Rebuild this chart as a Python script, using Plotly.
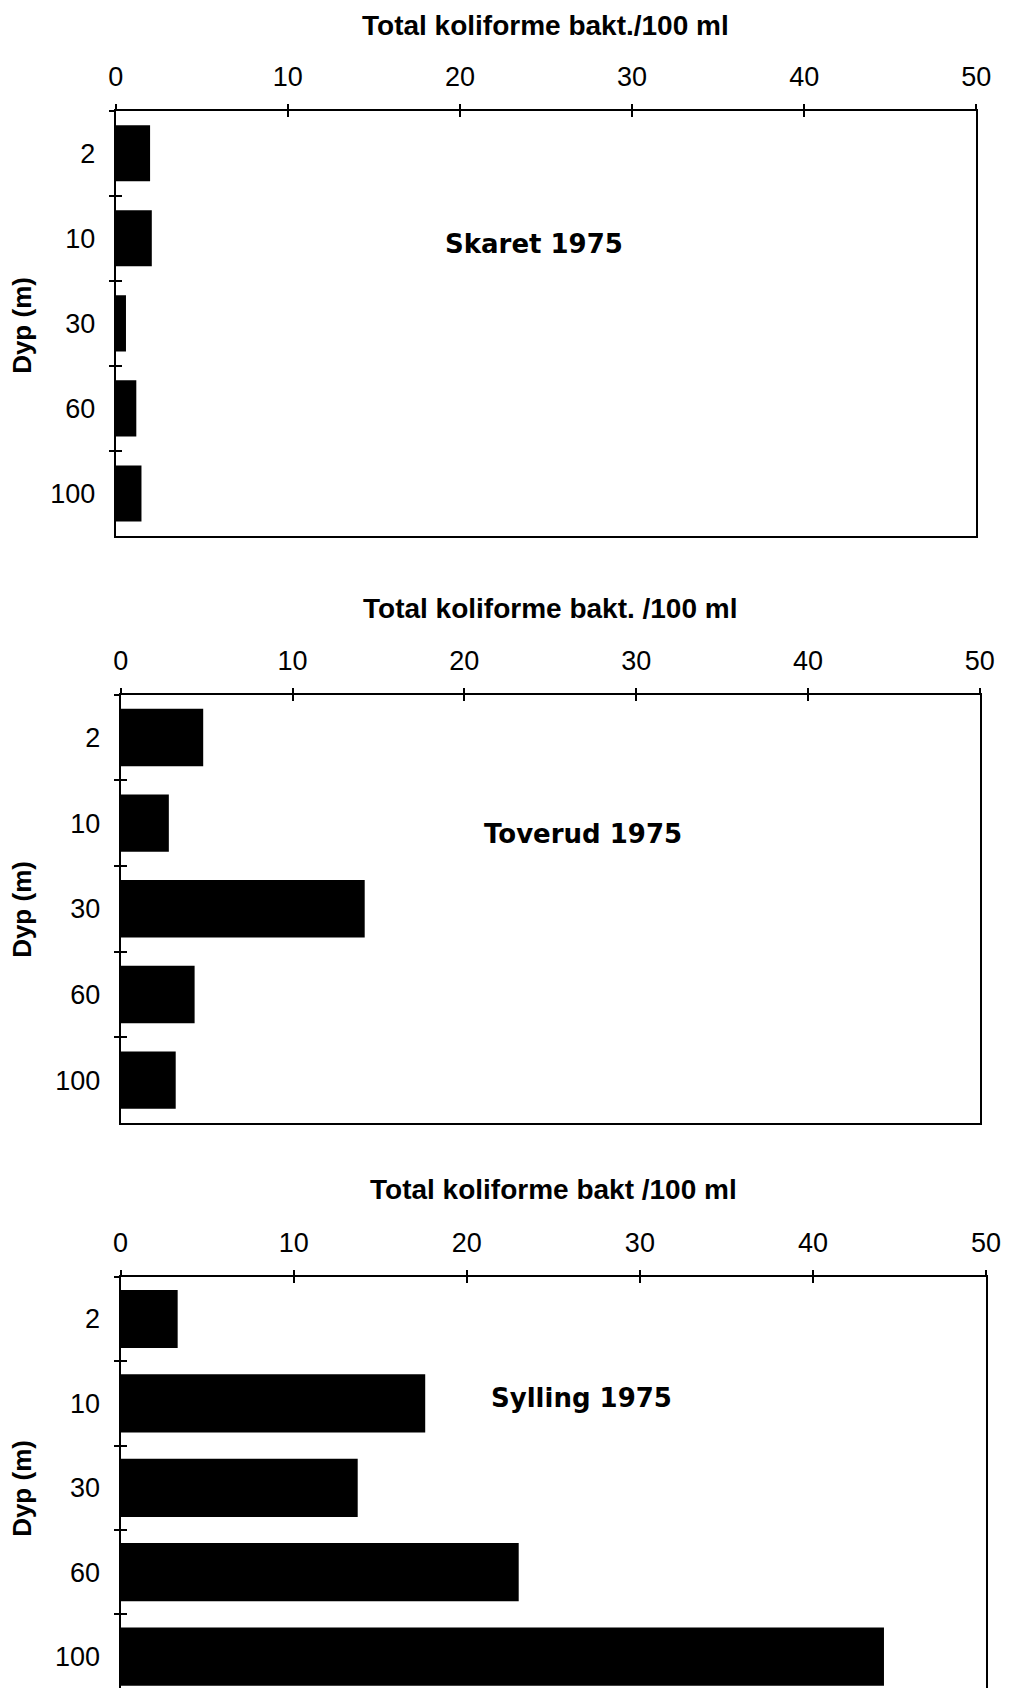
import plotly.graph_objects as go

# The page body adds a margin around the figure; the figure is sized to fit
# inside the 1016x1698 window (no overflow) and target pixel positions are shifted.
OFF_X, OFF_Y = 12, 8
W, H = 998, 1680

depths = ["2", "10", "30", "60", "100"]
skaret = [2.0, 2.1, 0.6, 1.2, 1.5]
toverud = [4.8, 2.8, 14.2, 4.3, 3.2]
sylling = [3.3, 17.6, 13.7, 23.0, 44.1]
x_ticks = [0, 10, 20, 30, 40, 50]

panel_titles = ["Total koliforme bakt./100 ml", "Total koliforme bakt. /100 ml", "Total koliforme bakt /100 ml"]
panel_names = ["Skaret 1975", "Toverud 1975", "Sylling 1975"]
y_title = "Dyp (m)"


def px(x):
    return (x - OFF_X) / W


def py(y):
    return 1 - (y - OFF_Y) / H


BOTTOM = OFF_Y + H  # lowest visible window row for the figure

# geometry in window pixels (left, right, top, bottom)
panels = [
    dict(l=114, r=995, t=110.7, b=536, yr=[4.5, -0.5], bw=0.66, mirror=True,
         tt=26, name_xy=(542, 244), ytc=325),
    dict(l=119.2, r=998.5, t=694.6, b=1123, yr=[4.5, -0.5], bw=0.67, mirror=True,
         tt=608, name_xy=(592, 834), ytc=909),
    dict(l=119, r=1005, t=1276.8, b=BOTTOM,
         yr=[-0.5 + (BOTTOM - 1276.8) / 84.4, -0.5], bw=0.69, mirror=False,
         tt=1189, name_xy=(591, 1398), ytc=1488),
]
series = [skaret, toverud, sylling]

TICKFONT = dict(family="Liberation Sans, Arial", size=27, color="black")

fig = go.Figure()
annotations = []
layout = {}

for i, (p, vals) in enumerate(zip(panels, series)):
    n = i + 1
    sx = "" if n == 1 else str(n)
    ox = str(n + 3)
    xd = [px(p["l"]), min(1.0, px(p["r"]))]
    yd = [max(0.0, py(p["b"])), py(p["t"])]

    fig.add_trace(go.Bar(
        x=vals, y=depths, orientation="h", width=p["bw"],
        marker=dict(color="black", line=dict(width=0)),
        xaxis="x" + sx, yaxis="y" + sx, showlegend=False, hoverinfo="x+y",
    ))
    # invisible trace carrying the overlay axes (inner half of crossing ticks)
    fig.add_trace(go.Scatter(
        x=[0], y=[0], mode="markers", marker=dict(opacity=0),
        xaxis="x" + ox, yaxis="y" + ox, showlegend=False, hoverinfo="skip",
    ))

    layout["xaxis" + sx] = dict(
        domain=xd, range=[0, 50], side="top", anchor="y" + sx,
        tickvals=x_ticks, ticks="outside", ticklen=5, tickwidth=1.6, tickcolor="black",
        showline=True, linecolor="black", linewidth=2, mirror=p["mirror"],
        showgrid=False, zeroline=False, tickfont=TICKFONT, ticklabelstandoff=7,
        ticklabeloverflow="allow", fixedrange=True,
    )
    layout["yaxis" + sx] = dict(
        domain=yd, type="category", categoryorder="array", categoryarray=depths,
        range=p["yr"], anchor="x" + sx, tickson="boundaries",
        ticks="outside", ticklen=5, tickwidth=1.6, tickcolor="black",
        showline=True, linecolor="black", linewidth=2, mirror=True,
        showgrid=False, zeroline=False, tickfont=TICKFONT, ticklabelstandoff=13,
        fixedrange=True,
    )
    layout["xaxis" + ox] = dict(
        overlaying="x" + sx, range=[0, 50], side="top", anchor="y" + sx,
        tickvals=x_ticks, ticks="inside", ticklen=6, tickwidth=1.6, tickcolor="black",
        showticklabels=False, showline=False, showgrid=False, zeroline=False,
        fixedrange=True,
    )
    layout["yaxis" + ox] = dict(
        overlaying="y" + sx, range=p["yr"], side="left", anchor="x" + sx,
        tickvals=[-0.5, 0.5, 1.5, 2.5, 3.5, 4.5], ticks="inside", ticklen=6,
        tickwidth=1.6, tickcolor="black",
        showticklabels=False, showline=False, showgrid=False, zeroline=False,
        fixedrange=True,
    )

    cx = (p["l"] + p["r"]) / 2
    annotations.append(dict(
        text=panel_titles[i], x=px(cx), y=py(p["tt"]), xref="paper", yref="paper",
        xanchor="center", yanchor="middle", showarrow=False,
        font=dict(family="Liberation Sans, Arial", size=28, color="black", weight="bold"),
    ))
    annotations.append(dict(
        text=panel_names[i], x=px(p["name_xy"][0]), y=py(p["name_xy"][1]),
        xref="paper", yref="paper", xanchor="center", yanchor="middle", showarrow=False,
        font=dict(family="DejaVu Sans, Liberation Sans", size=26, color="black", weight="bold"),
    ))
    annotations.append(dict(
        text=y_title, x=px(18), y=py(p["ytc"]), xref="paper", yref="paper",
        xanchor="center", yanchor="middle", showarrow=False, textangle=-90,
        font=dict(family="Liberation Sans, Arial", size=26, color="black", weight="bold"),
    ))

fig.update_layout(
    width=W, height=H, margin=dict(l=0, r=0, t=0, b=0),
    paper_bgcolor="white", plot_bgcolor="white",
    annotations=annotations, **layout,
)

fig.write_html("out.html")
